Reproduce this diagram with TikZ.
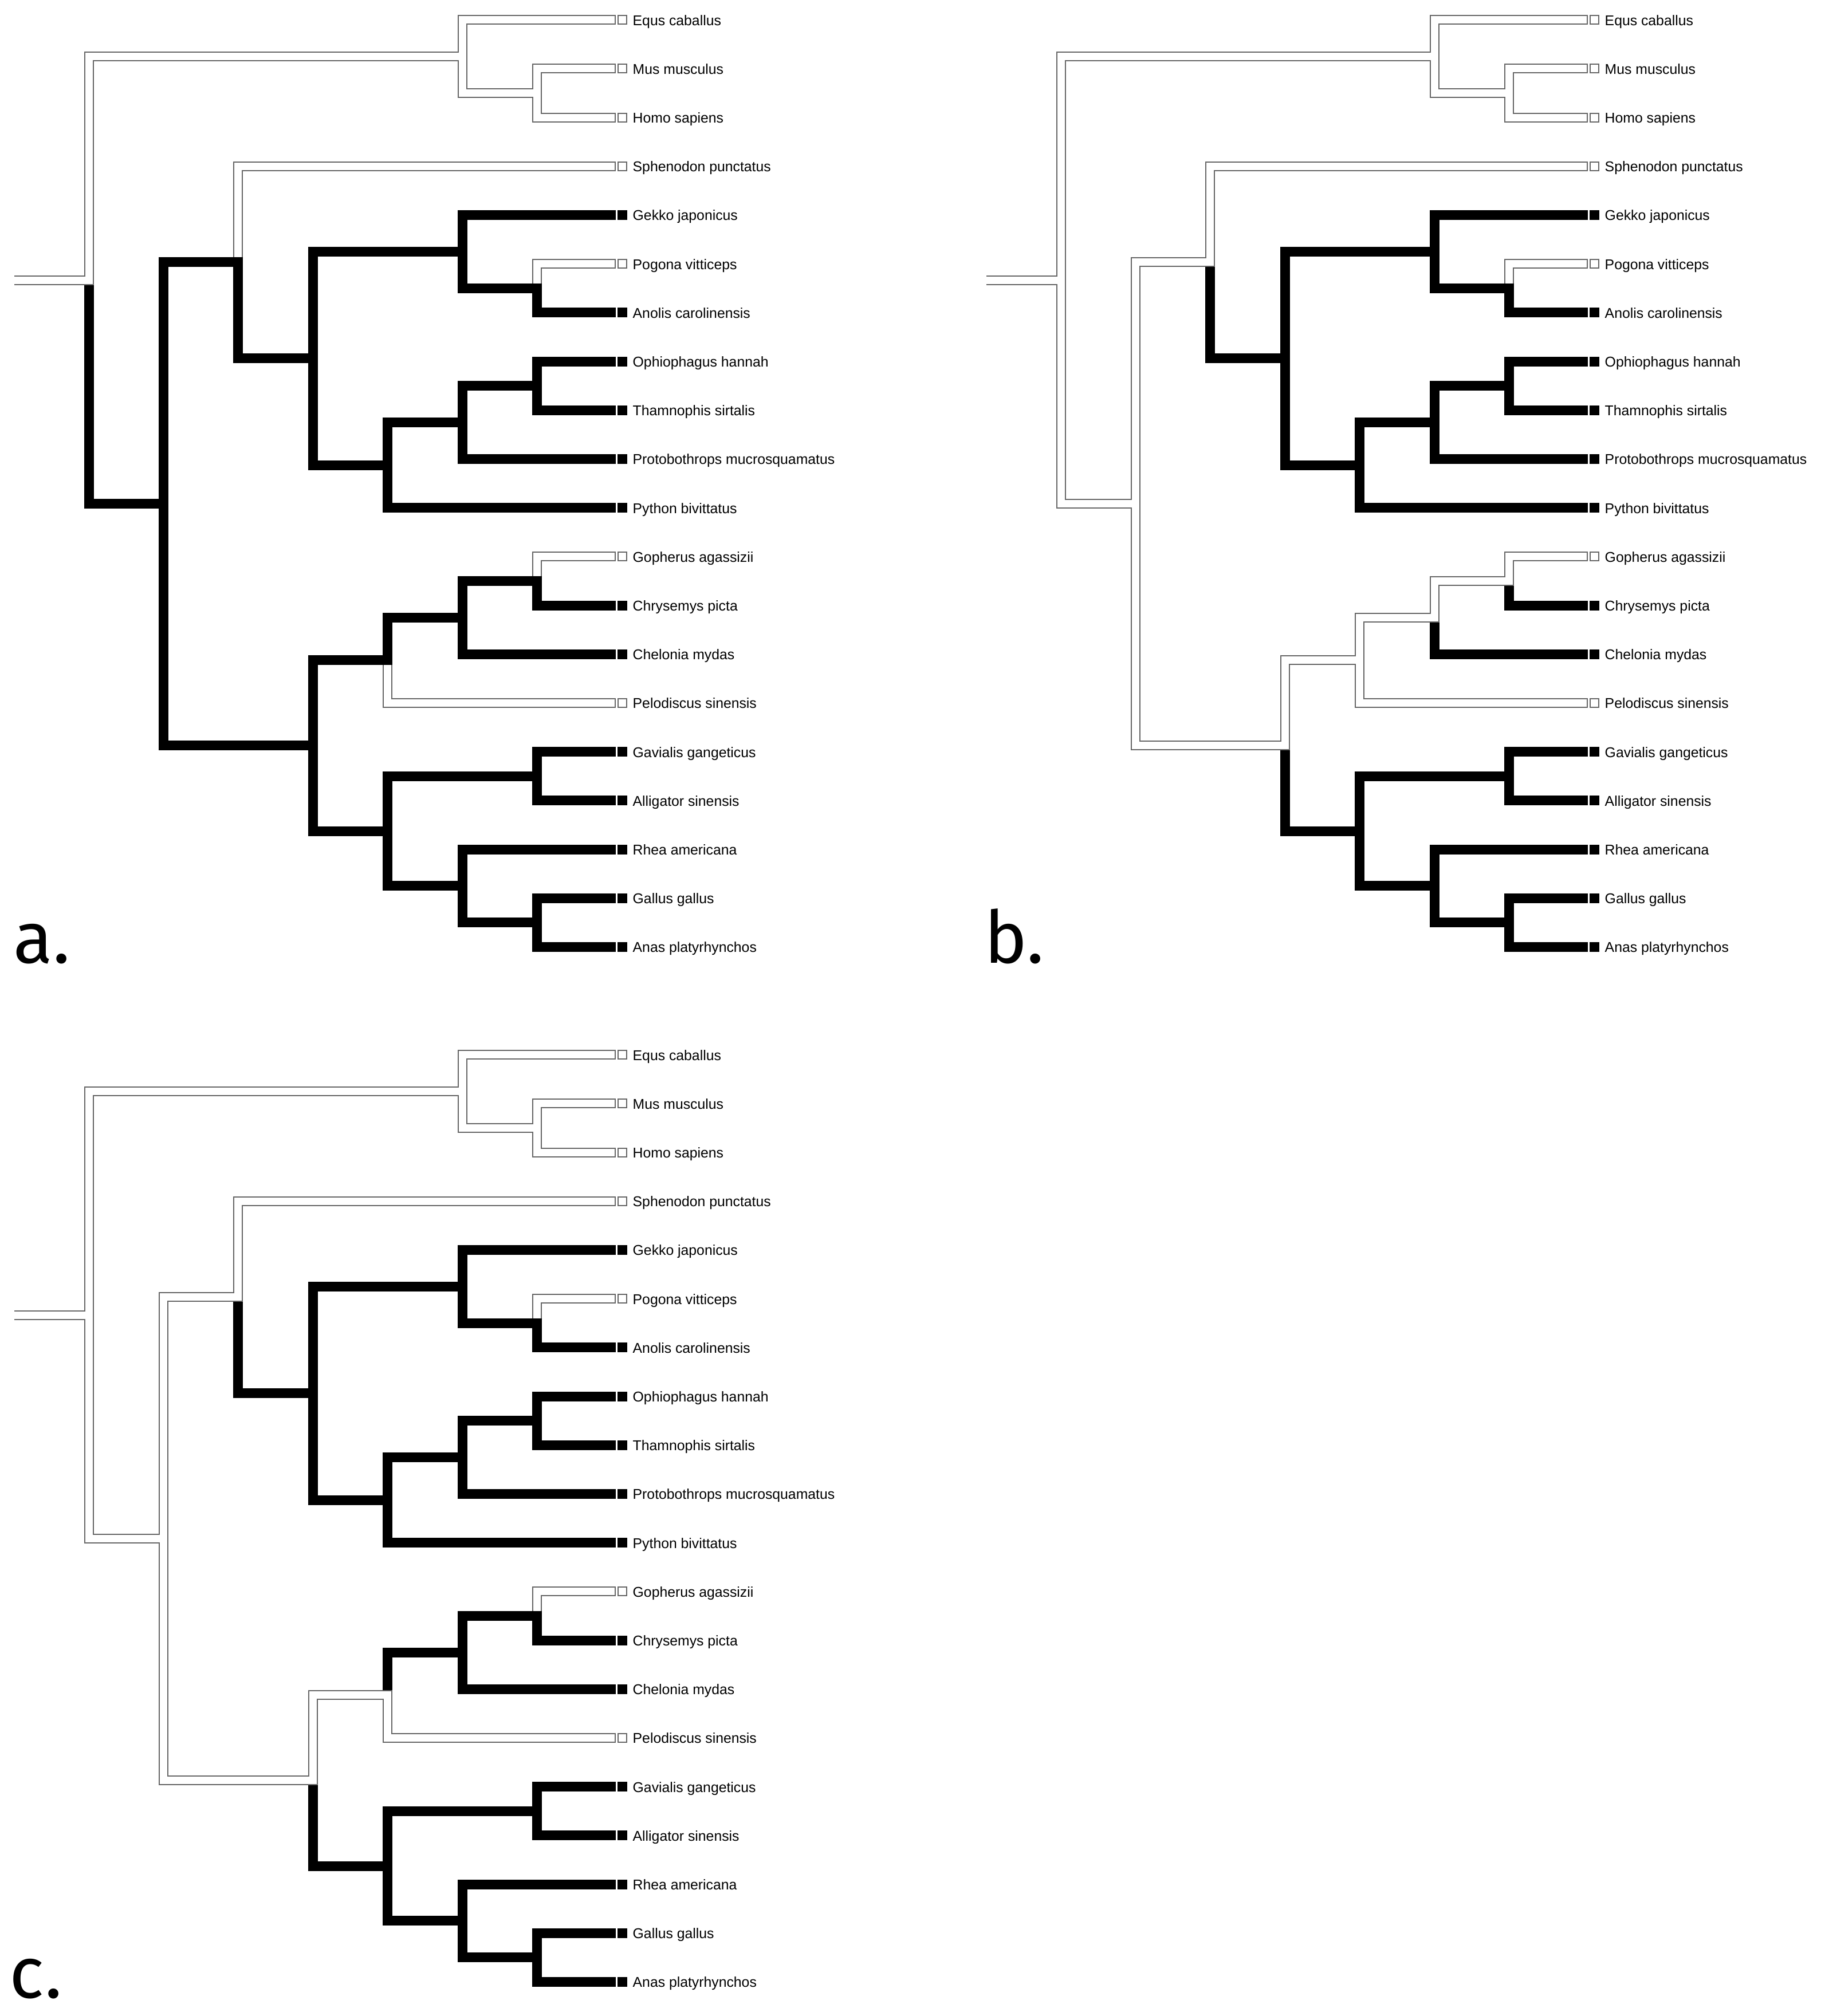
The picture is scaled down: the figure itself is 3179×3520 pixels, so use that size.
\documentclass[tikz,border=0pt]{standalone}
\usepackage{fontspec}
\setmainfont{Liberation Sans}
\newfontfamily\panelfont{Fira Sans}

\tikzset{
  % hollow branches: outline first, then the white inside
  p1w/.style={draw=black!60, line width=1.7mm, line cap=rect},
  p2w/.style={draw=white, line width=1.3mm, line cap=rect},
  p3w/.style={draw=none},
  % solid branches last
  p1b/.style={draw=none},
  p2b/.style={draw=none},
  p3b/.style={draw=black, line width=1.7mm, shorten <=0.85mm, shorten >=-0.85mm},
  % the stub is left open at its free end
  stub2/.style={p2w, shorten <=-0.2mm},
  boxw/.style={draw=black!60, fill=white, line width=0.2mm, minimum size=1.5mm, inner sep=0pt},
  boxb/.style={fill=black, minimum size=1.7mm, inner sep=0pt},
  taxon/.style={anchor=base west, inner sep=0pt, font=\fontsize{7.05}{8}\selectfont},
  tag/.style={anchor=base west, inner sep=0pt, font=\panelfont\fontsize{36}{40}\selectfont}
}

\begin{document}
\begin{tikzpicture}[x=0.1mm, y=-0.1mm]
  \useasboundingbox (0,0) rectangle (3179,3520);

  \foreach \p/\dx/\dy/\k/\tx/\lab in {a/0/0/1/23/a., b/1697/0/2/21/b., c/0/1807/3/16/c.} {
    \begin{scope}[shift={(\dx,\dy)}]
      % leaves
      \foreach \n/\i/\tone/\txt in {equ/0/w/Equs caballus, mus/1/w/Mus musculus,
          hom/2/w/Homo sapiens, sph/3/w/Sphenodon punctatus, gek/4/b/Gekko japonicus,
          pog/5/w/Pogona vitticeps, ano/6/b/Anolis carolinensis, oph/7/b/Ophiophagus hannah,
          tha/8/b/Thamnophis sirtalis, pro/9/b/Protobothrops mucrosquamatus,
          pyt/10/b/Python bivittatus, gop/11/w/Gopherus agassizii, chr/12/b/Chrysemys picta,
          che/13/b/Chelonia mydas, pel/14/w/Pelodiscus sinensis, gav/15/b/Gavialis gangeticus,
          all/16/b/Alligator sinensis, rhe/17/b/Rhea americana, gal/18/b/Gallus gallus,
          ana/19/b/Anas platyrhynchos} {
        \coordinate (\p-\n) at (1066, {34.6+85.2*\i});
        \node[box\tone] (\p-\n-box) at (1086.5, {34.6+85.2*\i}) {};
        \node[taxon] (\p-\n-lab) at (1104, {44.1+85.2*\i}) {\txt};
      }

      % inner nodes: name/height/row
      \foreach \n/\h/\i in {root/7/5.3359375, mam/2/0.75, musHom/1/1.5, sau/6/9.921875,
          lep/5/4.96875, sqm/4/6.9375, gekAno/2/4.75, pogAno/1/5.5, snk/3/9.125,
          ophPro/2/8.25, ophTha/1/7.5, arl/4/14.875, tur/3/13.125, gopChe/2/12.25,
          gopChr/1/11.5, arc/3/16.625, gavAll/1/15.5, rheAna/2/17.75, galAna/1/18.5}
        \coordinate (\p-\n) at ({155+130.4*(7-\h)}, {34.6+85.2*\i});
      \coordinate (\p-stub) at (33, {34.6+85.2*5.3359375});

      % branches, in three passes
      \draw[p1w] (\p-stub) -- (\p-root);
      \foreach \pass in {1,2,3} {
        \foreach \from/\to/\ta/\tb/\tc in {root/mam/w/w/w, root/sau/b/w/w,
            mam/equ/w/w/w, mam/musHom/w/w/w, musHom/mus/w/w/w, musHom/hom/w/w/w,
            sau/lep/b/w/w, sau/arl/b/w/w, lep/sph/w/w/w, lep/sqm/b/b/b,
            sqm/gekAno/b/b/b, sqm/snk/b/b/b, gekAno/gek/b/b/b, gekAno/pogAno/b/b/b,
            pogAno/pog/w/w/w, pogAno/ano/b/b/b, snk/ophPro/b/b/b, snk/pyt/b/b/b,
            ophPro/ophTha/b/b/b, ophPro/pro/b/b/b, ophTha/oph/b/b/b, ophTha/tha/b/b/b,
            arl/tur/b/w/w, arl/arc/b/b/b, tur/gopChe/b/w/b, tur/pel/w/w/w,
            gopChe/gopChr/b/w/b, gopChe/che/b/b/b, gopChr/gop/w/w/w, gopChr/chr/b/b/b,
            arc/gavAll/b/b/b, arc/rheAna/b/b/b, gavAll/gav/b/b/b, gavAll/all/b/b/b,
            rheAna/rhe/b/b/b, rheAna/galAna/b/b/b, galAna/gal/b/b/b, galAna/ana/b/b/b} {
          \edef\sty{p\pass\ifcase\k\or\ta\or\tb\or\tc\fi}
          \draw[\sty] (\p-\from) |- (\p-\to);
        }
        \ifnum\pass=1 \draw[stub2] (\p-stub) -- (\p-root);\fi
      }

      \node[tag] (\p-tag) at (\tx, 1681) {\lab};
    \end{scope}
  }
\end{tikzpicture}
\end{document}
